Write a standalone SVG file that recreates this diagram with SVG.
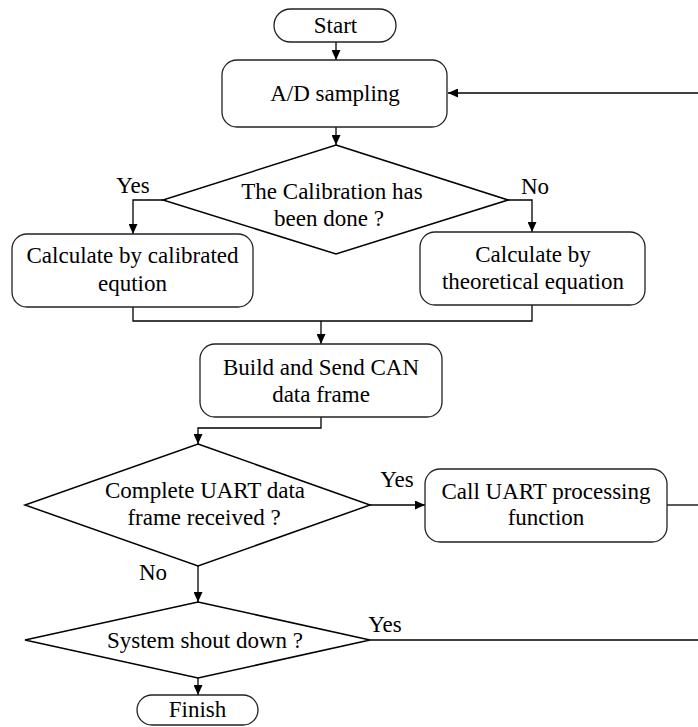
<svg xmlns="http://www.w3.org/2000/svg" width="698" height="727" viewBox="0 0 698 727">
<style>
.box{fill:#fff;stroke:#222;stroke-width:1.3}
.dia{fill:#fff;stroke:#000;stroke-width:1.5}
.ln{fill:none;stroke:#000;stroke-width:1.3}
text{font-family:"Liberation Serif","Times New Roman",serif;font-size:23px;fill:#000}
.c{text-anchor:middle}
</style>
<defs>
<marker id="ah" markerUnits="userSpaceOnUse" markerWidth="10" markerHeight="9" refX="10" refY="4.5" orient="auto">
<path d="M0,0 L10,4.5 L0,9 z" fill="#000"/>
</marker>
</defs>
<g id="connectors">
<line class="ln" x1="336" y1="42" x2="336" y2="60" marker-end="url(#ah)"/>
<line class="ln" x1="336" y1="127" x2="336" y2="145" marker-end="url(#ah)"/>
<polyline class="ln" points="163,200 133,200 133,234" marker-end="url(#ah)"/>
<polyline class="ln" points="508,200 532,200 532,232" marker-end="url(#ah)"/>
<polyline class="ln" points="133,307 133,321 532,321 532,305"/>
<line class="ln" x1="321" y1="321" x2="321" y2="344" marker-end="url(#ah)"/>
<polyline class="ln" points="321,417 321,428 198,428 198,444" marker-end="url(#ah)"/>
<line class="ln" x1="370" y1="505" x2="425" y2="505" marker-end="url(#ah)"/>
<line class="ln" x1="198" y1="566" x2="198" y2="602" marker-end="url(#ah)"/>
<line class="ln" x1="198" y1="678" x2="198" y2="695" marker-end="url(#ah)"/>
<line class="ln" x1="667" y1="505" x2="698" y2="505"/>
<line class="ln" x1="370" y1="640" x2="698" y2="640"/>
<line class="ln" x1="698" y1="93" x2="448" y2="93" marker-end="url(#ah)"/>
<text x="133" y="193" class="c">Yes</text>
<text x="535" y="194" class="c">No</text>
<text x="397" y="487" class="c">Yes</text>
<text x="153" y="580" class="c">No</text>
<text x="385" y="632" class="c">Yes</text>
</g>
<g id="start">
<rect class="box" x="274" y="9" width="122" height="33" rx="16.5"/>
<text x="335.5" y="33" class="c">Start</text>
</g>
<g id="ad">
<rect class="box" x="222" y="60" width="225" height="67" rx="15"/>
<text x="335" y="101" class="c">A/D sampling</text>
</g>
<g id="calib">
<polygon class="dia" points="336,145 508,200 336,254 163,200"/>
<text x="332" y="199" class="c">The Calibration has</text>
<text x="329" y="226" class="c">been done ?</text>
</g>
<g id="calc1">
<rect class="box" x="12" y="234" width="241" height="73" rx="15"/>
<text x="132.5" y="263" class="c">Calculate by calibrated</text>
<text x="132.5" y="291" class="c">eqution</text>
</g>
<g id="calc2">
<rect class="box" x="420" y="232" width="225" height="73" rx="15"/>
<text x="533" y="262" class="c">Calculate by</text>
<text x="533" y="289" class="c">theoretical equation</text>
</g>
<g id="build">
<rect class="box" x="200" y="344" width="242" height="73" rx="15"/>
<text x="321" y="375" class="c">Build and Send CAN</text>
<text x="321" y="402" class="c">data frame</text>
</g>
<g id="uart">
<polygon class="dia" points="198,444 370,505 198,566 25,505"/>
<text x="205" y="498" class="c">Complete UART data</text>
<text x="204" y="525" class="c">frame received ?</text>
</g>
<g id="callu">
<rect class="box" x="425" y="469" width="242" height="73" rx="15"/>
<text x="546" y="499" class="c">Call UART processing</text>
<text x="546" y="525" class="c">function</text>
</g>
<g id="shut">
<polygon class="dia" points="198,602 370,640 198,678 25,640"/>
<text x="205" y="648" class="c">System shout down ?</text>
</g>
<g id="finish">
<rect class="box" x="137" y="695" width="121" height="30" rx="15"/>
<text x="197.5" y="717" class="c">Finish</text>
</g>
</svg>
